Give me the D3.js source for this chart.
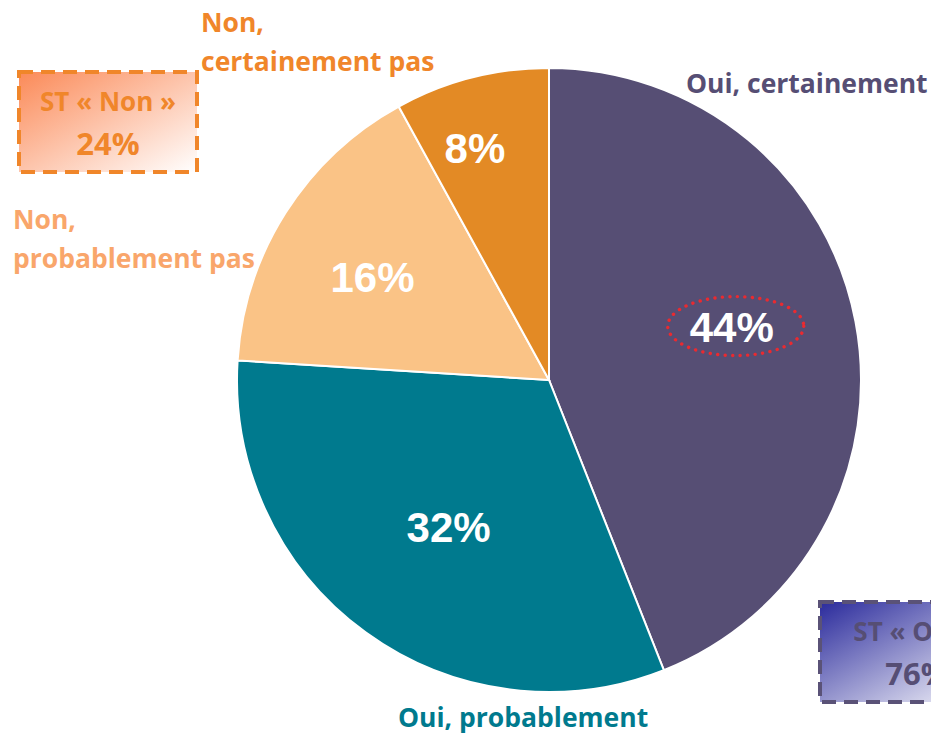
<!DOCTYPE html>
<html>
<head>
<meta charset="utf-8">
<script src="https://cdn.jsdelivr.net/npm/d3@7"></script>
<style>
  body { margin: 0; background: #fff; }
  svg { display: block; }
</style>
</head>
<body>
<svg></svg>
<script>
const categories = ["Oui, certainement", "Oui, probablement", "Non, probablement pas", "Non, certainement pas"];
const values = [44, 32, 16, 8];
const valueLabels = ["44%", "32%", "16%", "8%"];
const sliceColors = ["#564e74", "#007a8e", "#fac386", "#e38a25"];
const textColors = ["#564e74", "#007a8e", "#f9a66b", "#f0862a"];
const summaryLabels = ["ST « Non »", "ST « Oui »"];
const summaryValues = ["24%", "76%"];

const width = 931;
const height = 734;
const cx = 549;
const cy = 380;
const radius = 312;

const svg = d3.select("svg").attr("width", width).attr("height", height);

const defs = svg.append("defs");
function addGradient(id, from) {
  let g = defs.append("linearGradient")
    .attr("id", id)
    .attr("x1", "0%").attr("y1", "0%")
    .attr("x2", "100%").attr("y2", "100%");
  g.append("stop").attr("offset", "0%").attr("stop-color", from);
  g.append("stop").attr("offset", "100%").attr("stop-color", "#ffffff");
}
addGradient("gradNon", "#fb8a58");
addGradient("gradOui", "#2b2b9c");

let pie = d3.pie().sort(null).value((d) => d);
let arcs = pie(values);
let arc = d3.arc().innerRadius(0).outerRadius(radius);

let g = svg.append("g").attr("transform", `translate(${cx},${cy})`);

g.selectAll(".slice")
  .data(arcs)
  .enter()
  .append("path")
  .classed("slice", true)
  .attr("d", arc)
  .attr("fill", (d, i) => sliceColors[i])
  .attr("stroke", "#fff")
  .attr("stroke-width", 2);

// value labels: radius factor and nudge per slice
const labelPlace = [[0.58, 5, -19], [0.58, 6, 0], [0.655, -4, 6], [0.775, -14, 2]];
g.selectAll(".val")
  .data(arcs)
  .enter()
  .append("text")
  .classed("val", true)
  .attr("transform", (d, i) => {
    let [f, dx, dy] = labelPlace[i];
    let c = d3.arc().innerRadius(radius * f).outerRadius(radius * f).centroid(d);
    return `translate(${c[0] + dx},${c[1] + dy})`;
  })
  .attr("text-anchor", "middle")
  .attr("dy", "0.36em")
  .attr("fill", "#fff")
  .style("font-family", "Liberation Sans, Arial, sans-serif")
  .style("font-weight", "bold")
  .style("font-size", "42px")
  .text((d, i) => valueLabels[i]);

// red dotted ellipse around the biggest share
let big = arcs[0];
let bc = d3.arc().innerRadius(radius * 0.58).outerRadius(radius * 0.58).centroid(big);
g.append("ellipse")
  .attr("cx", bc[0] + 9)
  .attr("cy", bc[1] - 20)
  .attr("rx", 68)
  .attr("ry", 29.5)
  .attr("fill", "none")
  .attr("stroke", "#ea2a30")
  .attr("stroke-width", 3.4)
  .attr("stroke-linecap", "round")
  .attr("stroke-dasharray", "0.1 7.4");

// category labels
const catFont = "Open Sans, sans-serif";
const catPlace = [
  { x: 686, y: 93, lines: ["Oui, certainement"] },
  { x: 398, y: 727, lines: ["Oui, probablement"] },
  { x: 13, y: 229, lines: ["Non,", "probablement pas"] },
  { x: 201, y: 32, lines: ["Non,", "certainement pas"] },
];
categories.forEach((c, i) => {
  let p = catPlace[i];
  let t = svg.append("text")
    .attr("x", p.x)
    .attr("y", p.y)
    .attr("fill", textColors[i])
    .style("font-family", catFont)
    .style("font-weight", "bold")
    .style("font-size", "26.5px");
  p.lines.forEach((l, j) => {
    t.append("tspan").attr("x", p.x).attr("y", p.y + j * 39).text(l);
  });
});

// summary boxes (the right one runs past the page edge, as in the source)
const boxes = [
  { x: 19, y: 72, tx: 0, fill: "url(#gradNon)", stroke: "#f0862a", text: "#f0862a" },
  { x: 820, y: 602, tx: 8, fill: "url(#gradOui)", stroke: "#5a5277", text: "#564e74" },
];
boxes.forEach((b, i) => {
  let bw = 178, bh = 100;
  svg.append("rect")
    .attr("x", b.x).attr("y", b.y)
    .attr("width", bw).attr("height", bh)
    .attr("fill", b.fill)
    .attr("stroke", b.stroke)
    .attr("stroke-width", 4)
    .attr("stroke-dasharray", "14 8");
  svg.append("text")
    .attr("x", b.x + bw / 2 + b.tx).attr("y", b.y + 39)
    .attr("text-anchor", "middle")
    .attr("fill", b.text)
    .style("font-family", catFont)
    .style("font-weight", "bold")
    .style("font-size", "26px")
    .text(summaryLabels[i]);
  svg.append("text")
    .attr("x", b.x + bw / 2 + b.tx).attr("y", b.y + 83)
    .attr("text-anchor", "middle")
    .attr("fill", b.text)
    .style("font-family", catFont)
    .style("font-weight", "bold")
    .style("font-size", "31px")
    .text(summaryValues[i]);
});
</script>
</body>
</html>
